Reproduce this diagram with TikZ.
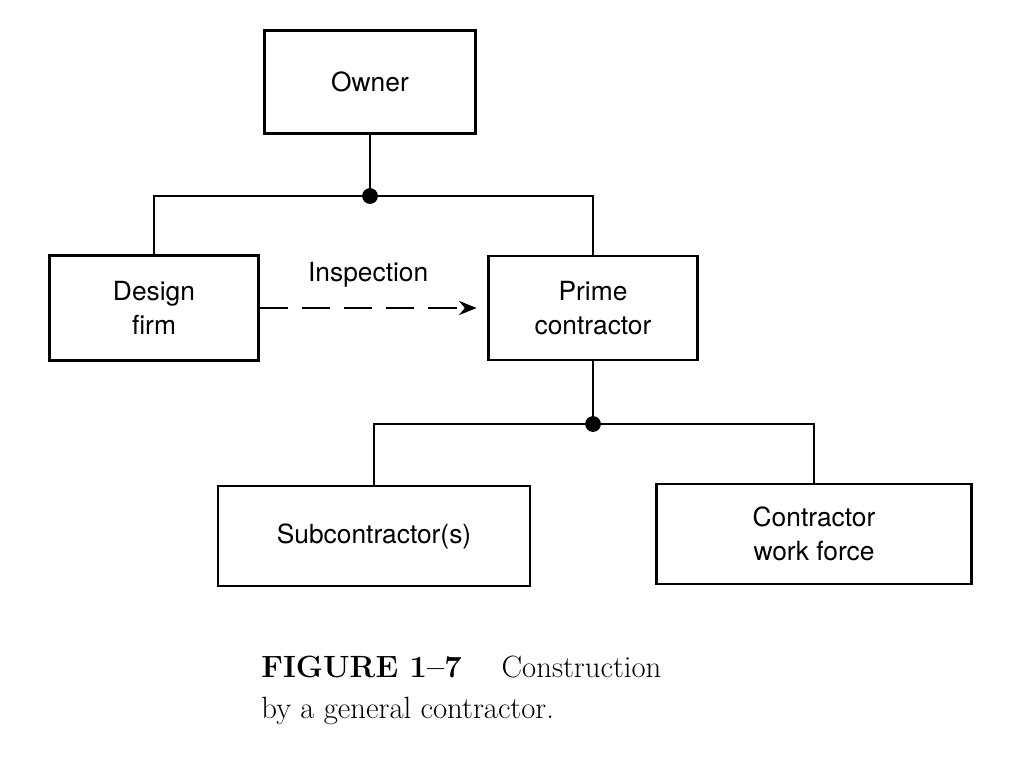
\documentclass[tikz,border=0pt]{standalone}
\usepackage{fontspec}
\newfontfamily\boxfont{TeX Gyre Heros}
\usetikzlibrary{arrows.meta}

\begin{document}
\begin{tikzpicture}[x=0.02cm,y=-0.02cm,line width=1.5pt,>={Stealth[length=10pt,width=8pt]},
  box/.style={draw,align=center,font=\boxfont\fontsize{15}{19}\selectfont,inner sep=0pt}]

\useasboundingbox (0,0) rectangle (1024,768);

% 方框
\node[box,minimum width=4.22cm,minimum height=2.06cm] (owner) at (370,82) {Owner};
\node[box,minimum width=4.18cm,minimum height=2.1cm] (design) at (154,308) {Design\\firm};
\node[box,minimum width=4.18cm,minimum height=2.08cm] (prime) at (593,308) {Prime\\contractor};
\node[box,minimum width=6.24cm,minimum height=2.0cm] (sub) at (374,536) {Subcontractor(s)};
\node[box,minimum width=6.3cm,minimum height=2.0cm] (force) at (814,534) {Contractor\\work force};

% 连接点
\coordinate (j1) at (370,196);
\coordinate (j2) at (593,424);
\fill (j1) circle (4.5pt);
\fill (j2) circle (4.5pt);

% 连线
\draw (owner.south) -- (j1);
\draw (design.north) |- (j1) -| (prime.north);
\draw (prime.south) -- (j2);
\draw (sub.north) |- (j2) -| (force.north);

% 检查
\draw[->,dashed,dash pattern=on 16pt off 8pt] (design.east) -- ([xshift=-6pt]prime.west)
  node[midway,above=8pt,font=\boxfont\fontsize{15}{19}\selectfont] {Inspection};

% 图题
\node[anchor=north west,align=left,font=\fontsize{17.5}{23}\selectfont,inner sep=0pt] (cap) at (260,655)
  {\textbf{FIGURE 1--7}\quad\ Construction\\by a general contractor.};

\end{tikzpicture}
\end{document}
